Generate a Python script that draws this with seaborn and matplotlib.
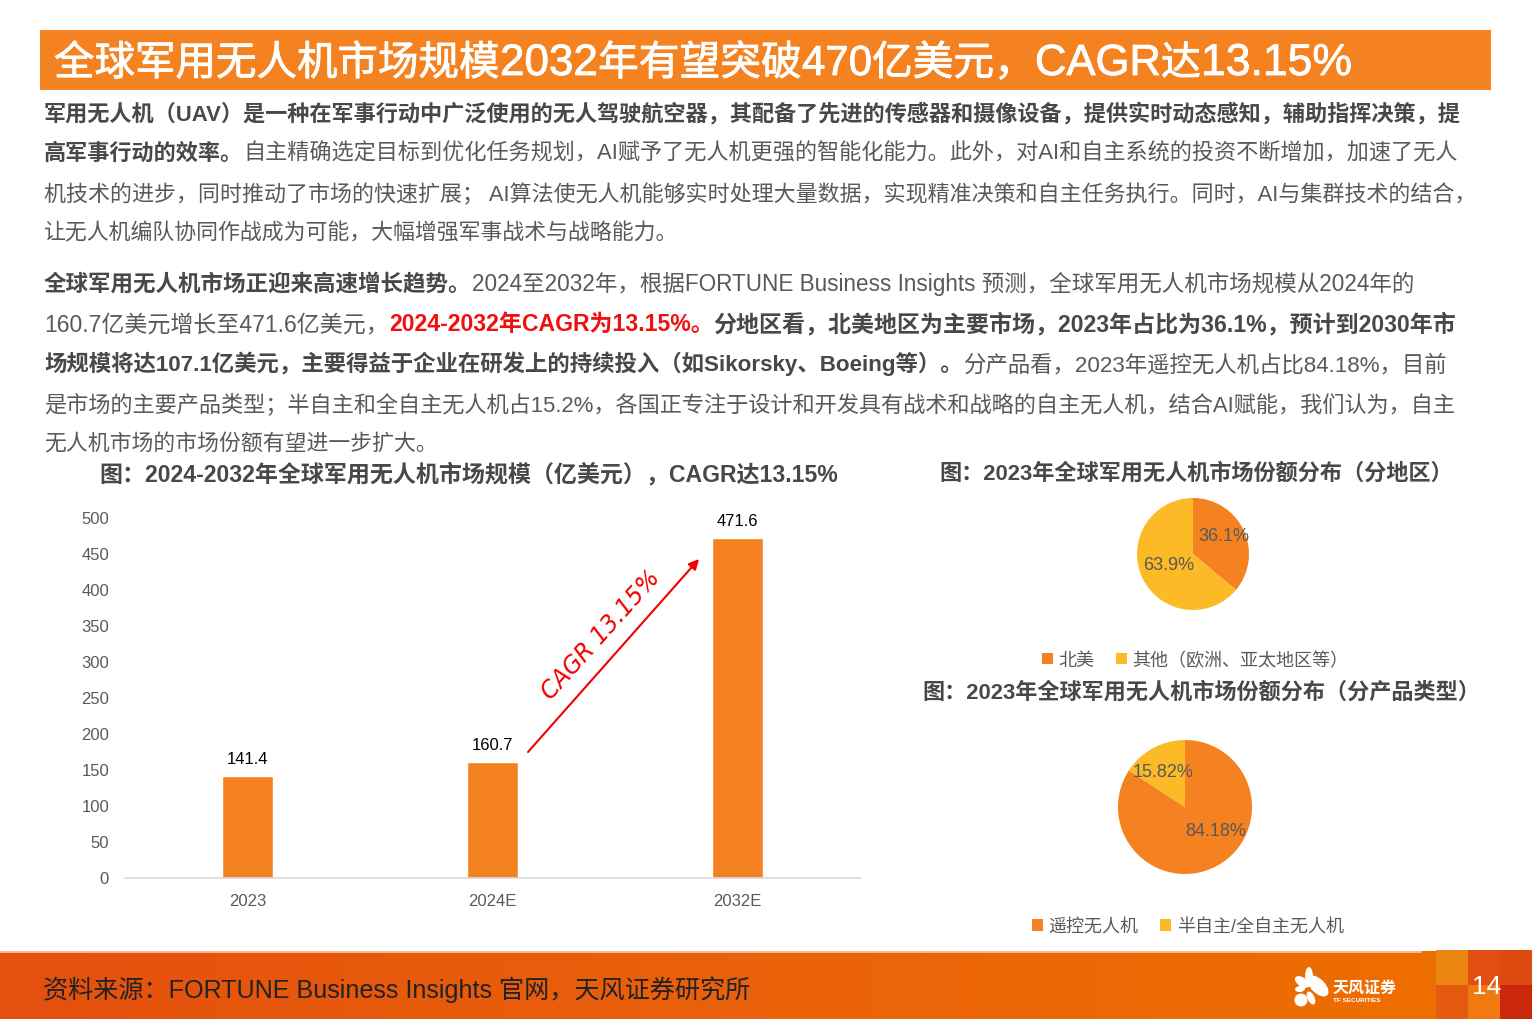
import numpy as np
import pandas as pd
import matplotlib
matplotlib.use('Agg')
import matplotlib.pyplot as plt
import matplotlib.patheffects as pe
from matplotlib.patches import Rectangle, Ellipse
import seaborn as sns

sns.set_theme(style='white')
# 拉丁字母用 Liberation Sans，汉字回退到 Noto
plt.rcParams['font.family'] = ['Liberation Sans', 'Noto Sans CJK SC', 'DejaVu Sans']

# data
years = ['2023', '2024E', '2032E']
market_size = [141.4, 160.7, 471.6]
region_names = ['北美', '其他（欧洲、亚太地区等）']
region_share = [36.1, 63.9]
region_labels = ['36.1%', '63.9%']
product_names = ['遥控无人机', '半自主/全自主无人机']
product_share = [84.18, 15.82]
product_labels = ['84.18%', '15.82%']

ORANGE = '#F58220'
YELLOW = '#FBBA26'
GRAY = '#595959'
DARK = '#484848'

B = (DARK, 'bold')
N = (GRAY, 'normal')
R = ('#F01010', 'bold')

# 标题分段：(文字, 右端 x)
title_pieces = [('全球军用无人机市场规模', 500), ('2032', 598), ('年有望突破', 802), ('470', 872),
                ('亿美元，', 1035), ('CAGR', 1161), ('达', 1201), ('13.15%', 1352)]

# (baseline y, right end x, runs)
body = [
    (120, 1467, [('军用无人机（UAV）是一种在军事行动中广泛使用的无人驾驶航空器，其配备了先进的传感器和摄像设备，提供实时动态感知，辅助指挥决策，提', B)]),
    (159, 1462, [('高军事行动的效率。', B), ('自主精确选定目标到优化任务规划，AI赋予了无人机更强的智能化能力。此外，对AI和自主系统的投资不断增加，加速了无人', N)]),
    (200, 1480, [('机技术的进步，同时推动了市场的快速扩展； AI算法使无人机能够实时处理大量数据，实现精准决策和自主任务执行。同时，AI与集群技术的结合，', N)]),
    (239, 680, [('让无人机编队协同作战成为可能，大幅增强军事战术与战略能力。', N)]),
    (290, 1416, [('全球军用无人机市场正迎来高速增长趋势。', B), ('2024至2032年，根据FORTUNE Business Insights 预测，全球军用无人机市场规模从2024年的', N)]),
    (330, 1458, [('160.7亿美元增长至471.6亿美元，', N), ('2024-2032年CAGR为13.15%。', R), ('分地区看，北美地区为主要市场，2023年占比为36.1%，预计到2030年市', B)]),
    (370, 1454, [('场规模将达107.1亿美元，主要得益于企业在研发上的持续投入（如Sikorsky、Boeing等）。', B), ('分产品看，2023年遥控无人机占比84.18%，目前', N)]),
    (410, 1463, [('是市场的主要产品类型；半自主和全自主无人机占15.2%，各国正专注于设计和开发具有战术和战略的自主无人机，结合AI赋能，我们认为，自主', N)]),
    (450, 438, [('无人机市场的市场份额有望进一步扩大。', N)]),
]


def draw_runs(ax, x0, x1, y, runs, size=15.8, stroke=0):
    # 先量一遍宽度，按行宽缩放字号，再逐段排
    rend = ax.figure.canvas.get_renderer()
    def widths(sz):
        out = []
        for txt, (c, w) in runs:
            t = ax.text(0, 0, txt, fontsize=sz, fontweight=w)
            out.append(t.get_window_extent(rend).width)
            t.remove()
        return out
    size = size * (x1 - x0) / sum(widths(size))
    ws = widths(size)
    x = x0
    for (txt, (c, w)), wd in zip(runs, ws):
        t = ax.text(x, y, txt, fontsize=size, color=c, fontweight=w, va='baseline', ha='left')
        if stroke:
            t.set_path_effects([pe.withStroke(linewidth=stroke, foreground=c)])
        x += wd


fig = plt.figure(figsize=(15.32, 10.2), dpi=100, facecolor='white')
W, H = 1532, 1020
SHIFT = 1  # 整体下移 1px


def px_axes(l, t, r, b, **kw):
    return fig.add_axes([l / W, 1 - (b + SHIFT) / H, (r - l) / W, (b - t) / H], **kw)


# overlay in pixel coordinates
page = fig.add_axes([0, 0, 1, 1], zorder=0)
page.set_xlim(0, W)
page.set_ylim(H - SHIFT, -SHIFT)
page.axis('off')

page.add_patch(Rectangle((40, 30), 1451, 60, color=ORANGE, lw=0))
x_start = 54
for txt, x_end in title_pieces:
    draw_runs(page, x_start, x_end, 75, [(txt, ('white', 'normal'))], 32, stroke=0.6)
    x_start = x_end

for y, x1, runs in body:
    draw_runs(page, 44, x1, y, runs)

draw_runs(page, 99, 840, 480, [('图：2024-2032年全球军用无人机市场规模（亿美元），CAGR达13.15%', (DARK, 'bold'))], 17)
draw_runs(page, 939, 1455, 479, [('图：2023年全球军用无人机市场份额分布（分地区）', (DARK, 'bold'))], 17)
draw_runs(page, 922, 1481, 698, [('图：2023年全球军用无人机市场份额分布（分产品类型）', (DARK, 'bold'))], 17)

# footer
grad = np.linspace(0, 1, 256).reshape(1, -1)
cmap = matplotlib.colors.LinearSegmentedColormap.from_list('foot', ['#E4500E', '#EA620A', '#EE7000'])
page.imshow(grad, extent=(0, W, 1020, 951), cmap=cmap, aspect='auto', zorder=1)
page.set_xlim(0, W)
page.set_ylim(H - SHIFT, -SHIFT)
page.add_patch(Rectangle((0, 951), 1422, 1.5, color='#F4B98F', lw=0, zorder=2))
squares = [(1436, 950, 32, 35, '#EA8512'), (1468, 950, 32, 35, '#E24F12'), (1500, 950, 32, 35, '#DD4A10'),
           (1436, 985, 32, 35, '#E55A0F'), (1468, 985, 32, 35, '#EE7A10'), (1500, 985, 32, 35, '#C9280C')]
for x, y, w, h, c in squares:
    page.add_patch(Rectangle((x, y), w, h, color=c, lw=0, zorder=2))
draw_runs(page, 43, 751, 997, [('资料来源：FORTUNE Business Insights 官网，天风证券研究所', ('#222222', 'normal'))], 18)
page.text(1487, 986, '14', color='white', fontsize=19, ha='center', va='center', zorder=3)

# logo
petals = [(1309, 977, 8, 20, 0), (1302, 982, 16, 9, 35), (1318, 986, 14, 26, -45),
          (1300, 989, 10, 6, -5), (1301, 1000, 13, 13, 0), (1311, 998, 7, 14, -25)]
for cx, cy, w, h, ang in petals:
    page.add_patch(Ellipse((cx, cy), w, h, angle=ang, color='white', lw=0, zorder=3))
page.text(1333, 987, '天风证券', color='white', fontsize=11.5, fontweight='bold', va='center', zorder=3)
page.text(1333, 1000, 'TF SECURITIES', color='white', fontsize=4.6, fontweight='bold', va='center', zorder=3)

# bar chart
df = pd.DataFrame({'year': years, 'size': market_size})
ax = px_axes(125, 518, 860, 878, zorder=1)
ax.patch.set_alpha(0)
sns.barplot(data=df, x='year', y='size', color=ORANGE, saturation=1, width=0.205, ax=ax)
ax.set_xlim(-0.5, 2.5)
ax.set_ylim(0, 500)
ax.set_yticks(np.arange(0, 501, 50))
ax.set_xlabel('')
ax.set_ylabel('')
sns.despine(ax=ax, left=True)
ax.spines['bottom'].set_color('#D9D9D9')
ax.tick_params(axis='both', length=0, labelsize=12, labelcolor=GRAY)
ax.tick_params(axis='x', pad=10.5)
ax.tick_params(axis='y', pad=11.5)
for lab in ax.get_yticklabels():
    lab.set_verticalalignment('center')
ax.bar_label(ax.containers[0], labels=[f'{v:.1f}' for v in market_size], fontsize=12,
             color='black', padding=7.5)

# CAGR arrow
arrow_ax = px_axes(0, 0, W, H, zorder=2)
arrow_ax.set_xlim(0, W)
arrow_ax.set_ylim(H, 0)
arrow_ax.axis('off')
arrow_ax.annotate('', xy=(699, 559), xytext=(528, 752),
                  arrowprops=dict(arrowstyle='-|>', color='#F00000', lw=1.5, mutation_scale=15, shrinkA=0, shrinkB=0))
arrow_ax.text(601, 634, 'CAGR 13.15%', color='#F00000', fontsize=17, rotation=48, rotation_mode='anchor',
              ha='center', va='center', family='DejaVu Sans', style='oblique')


def draw_pie(cx, cy, r, values, colors, names, labels, label_xy, legend_y, legend_x):
    pa = px_axes(cx - r, cy - r, cx + r, cy + r, zorder=1)
    wedges, _ = pa.pie(values, colors=colors, startangle=90, counterclock=False, radius=1,
                       wedgeprops=dict(linewidth=0))
    pa.set_xlim(-1, 1)
    pa.set_ylim(-1, 1)
    for txt, (lx, ly) in zip(labels, label_xy):
        arrow_ax.text(lx, ly, txt, fontsize=13, color=GRAY, ha='center', va='center')
    arrow_ax.legend(wedges, names, loc='center', bbox_to_anchor=(legend_x, legend_y),
                    bbox_transform=arrow_ax.transData, ncol=2, frameon=False, fontsize=13,
                    labelcolor=GRAY, handlelength=0.6, handleheight=0.6, handletextpad=0.3,
                    columnspacing=1.2, borderpad=0)
    return pa


draw_pie(1193, 554, 56, region_share, [ORANGE, YELLOW], region_names, region_labels,
         [(1224, 536), (1169, 565)], 660, 1195)
leg1 = arrow_ax.get_legend()
draw_pie(1185, 807, 67, product_share, [ORANGE, YELLOW], product_names, product_labels,
         [(1216, 831), (1163, 772)], 927, 1188)
arrow_ax.add_artist(leg1)

fig.savefig('out.png', dpi=100)
